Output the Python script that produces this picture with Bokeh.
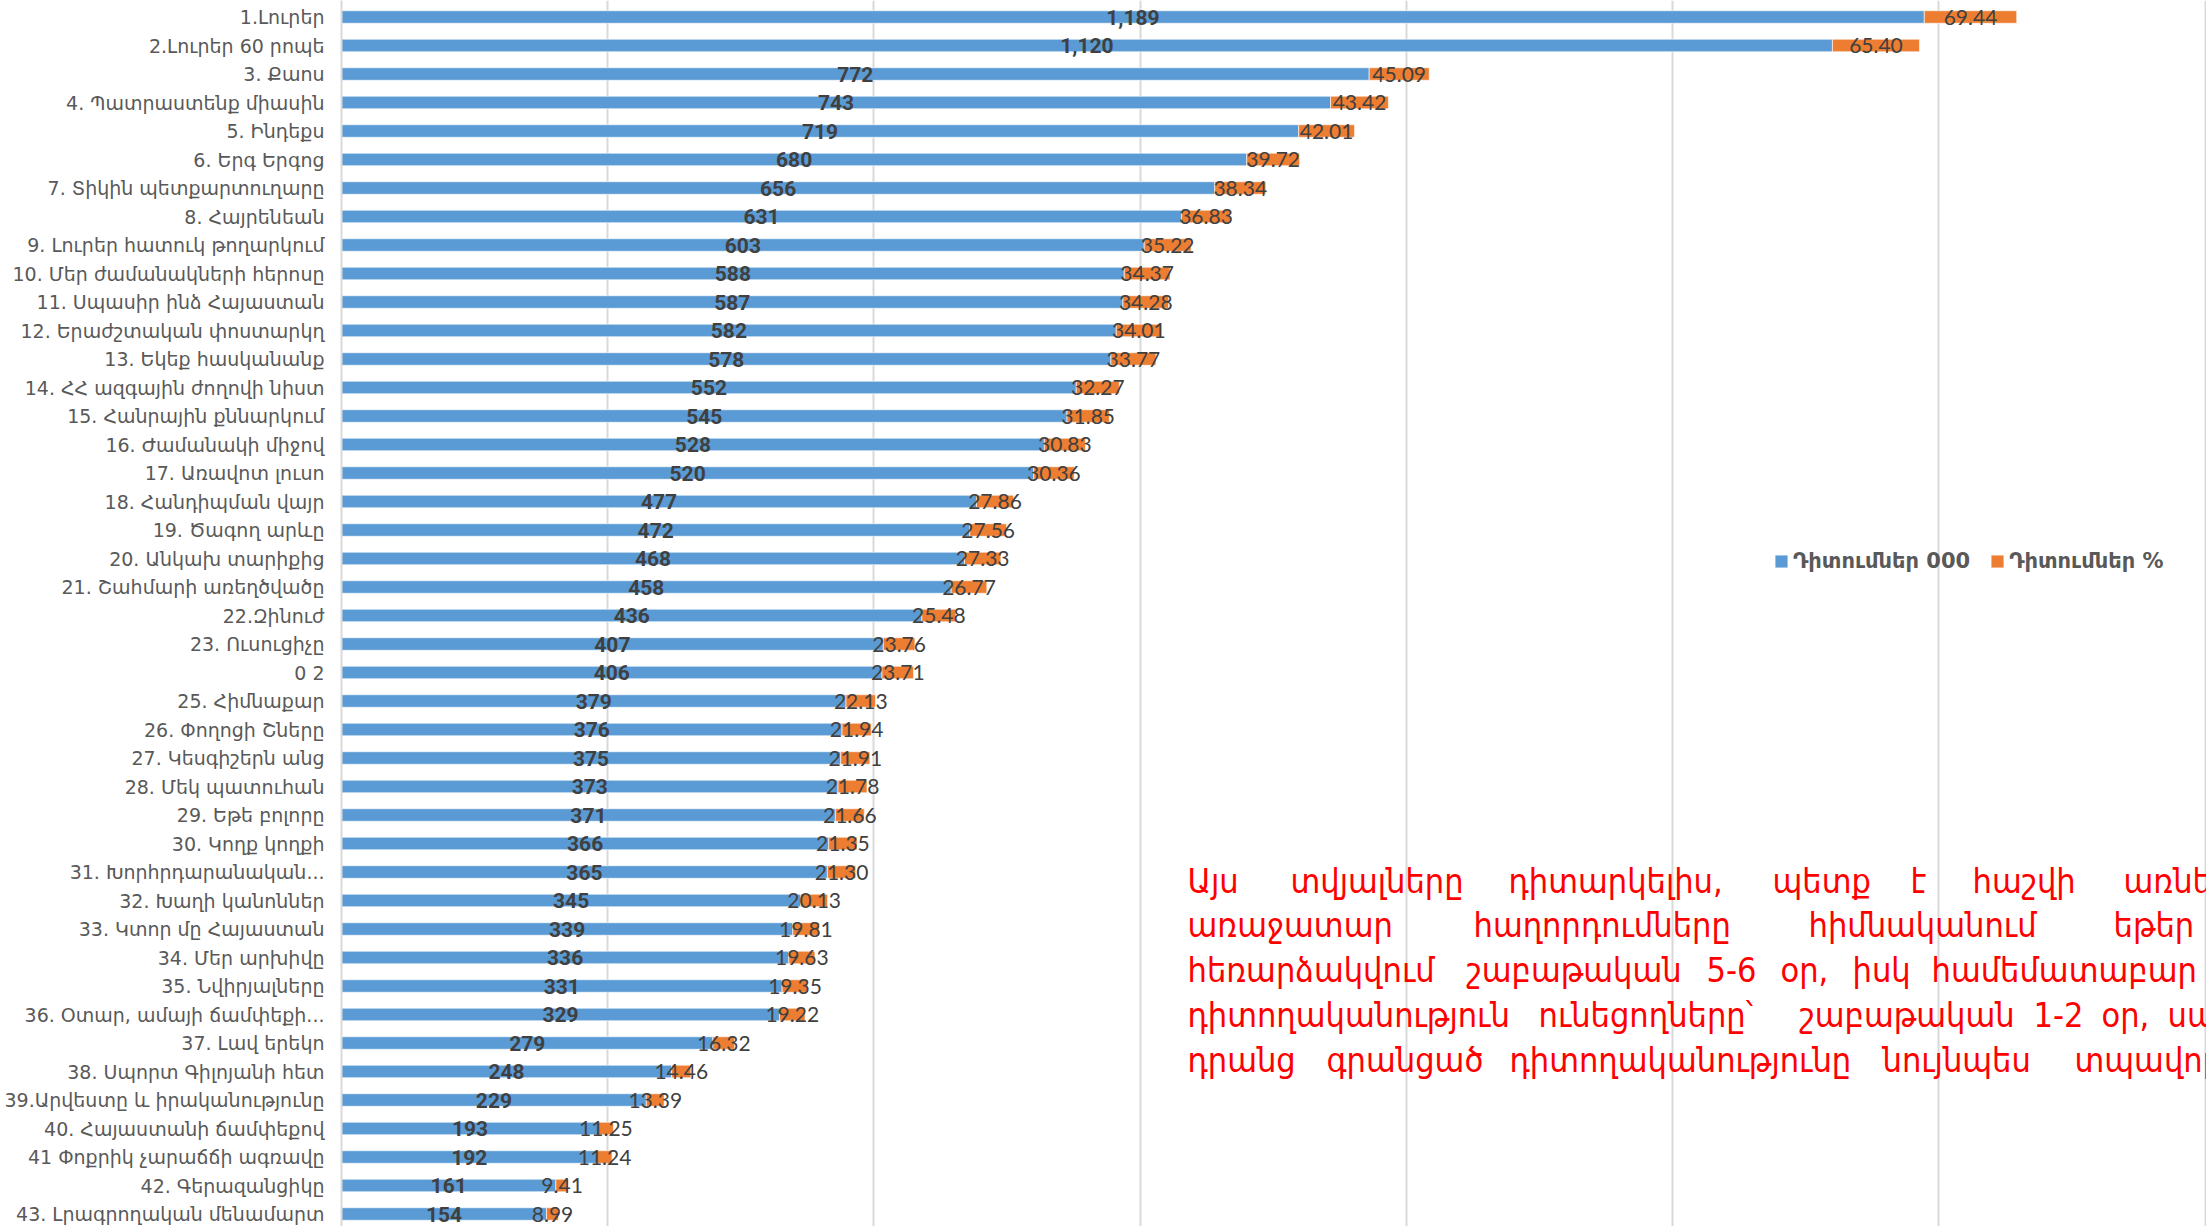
from bokeh.plotting import figure
from bokeh.models import ColumnDataSource, Range1d, FixedTicker, Legend, LegendItem
from bokeh.core.properties import value
from bokeh.embed import file_html
from bokeh.resources import INLINE

# ---------------- data ----------------
categories = [
    "1.Լուրեր", "2.Լուրեր 60 րոպե", "3. Քաոս", "4. Պատրաստենք միասին",
    "5. Ինդեքս", "6. Երգ Երգոց", "7. Տիկին պետքարտուղարը", "8. Հայրենեան",
    "9. Լուրեր հատուկ թողարկում", "10. Մեր ժամանակների հերոսը",
    "11. Սպասիր ինձ Հայաստան", "12. Երաժշտական փոստարկղ",
    "13. Եկեք հասկանանք", "14. ՀՀ ազգային ժողովի նիստ",
    "15. Հանրային քննարկում", "16. Ժամանակի միջով", "17. Առավոտ լուսո",
    "18. Հանդիպման վայր", "19. Ծագող արևը", "20. Անկախ տարիքից",
    "21. Շահմարի առեղծվածը", "22.Զինուժ", "23. Ուսուցիչը", "0 2",
    "25. Հիմնաքար", "26. Փողոցի Շները", "27. Կեսգիշերն անց",
    "28. Մեկ պատուհան", "29. Եթե բոլորը", "30. Կողք կողքի",
    "31. Խորհրդարանական...", "32. Խաղի կանոններ", "33. Կտոր մը Հայաստան",
    "34. Մեր արխիվը", "35. Նվիրյալները", "36. Օտար, ամայի ճամփեքի...",
    "37. Լավ երեկո", "38. Սպորտ Գիլոյանի հետ", "39.Արվեստը և իրականությունը",
    "40. Հայաստանի ճամփեքով", "41 Փոքրիկ չարաճճի ագռավը", "42. Գերազանցիկը",
    "43. Լրագրողական մենամարտ",
]
views_000 = [1189, 1120, 772, 743, 719, 680, 656, 631, 603, 588, 587, 582, 578,
             552, 545, 528, 520, 477, 472, 468, 458, 436, 407, 406, 379, 376,
             375, 373, 371, 366, 365, 345, 339, 336, 331, 329, 279, 248, 229,
             193, 192, 161, 154]
views_pct = [69.44, 65.40, 45.09, 43.42, 42.01, 39.72, 38.34, 36.83, 35.22,
             34.37, 34.28, 34.01, 33.77, 32.27, 31.85, 30.83, 30.36, 27.86,
             27.56, 27.33, 26.77, 25.48, 23.76, 23.71, 22.13, 21.94, 21.91,
             21.78, 21.66, 21.35, 21.30, 20.13, 19.81, 19.63, 19.35, 19.22,
             16.32, 14.46, 13.39, 11.25, 11.24, 9.41, 8.99]
x_ticks = [0, 200, 400, 600, 800, 1000, 1200, 1400]
series_names = ["Դիտումներ 000", "Դիտումներ %"]

# red note (justified text box, cut by the right edge), word by word
note_lines = [
    ["Այս", "տվյալները", "դիտարկելիս,", "պետք", "է", "հաշվի", "առնել"],
    ["առաջատար", "հաղորդումները", "հիմնականում", "եթեր"],
    ["հեռարձակվում", "շաբաթական", "5-6", "օր,", "իսկ", "համեմատաբար"],
    ["դիտողականություն", "ունեցողները՝", "շաբաթական", "1-2", "օր,", "սակայն"],
    ["դրանց", "գրանցած", "դիտողականությունը", "նույնպես", "տպավորիչ"],
]

# ---------------- layout constants (pixels) ----------------
W, H = 2206, 1226
LEFT = 341                 # frame left edge
ROW_PX = 28.50
XMAX = 1401
Y_TOP = 1 - 16.5 / ROW_PX
Y_BOTTOM = Y_TOP + H / ROW_PX
PX_PER_UNIT = (W - LEFT) / XMAX

def sx_to_x(px):
    return (px - LEFT) / PX_PER_UNIT

def sy_to_y(py):
    return Y_TOP + py / ROW_PX

BLUE = "#5B9BD5"
ORANGE = "#ED7D31"
LABEL = "#404040"

rows = list(range(1, len(categories) + 1))
src = ColumnDataSource(dict(
    y=rows,
    views=views_000,
    total=[v + p for v, p in zip(views_000, views_pct)],
    vmid=[v / 2 for v in views_000],
    pmid=[v + p / 2 for v, p in zip(views_000, views_pct)],
    vtxt=[f"{v:,}" for v in views_000],
    ptxt=[f"{p:.2f}" for p in views_pct],
))

p = figure(width=W, height=H, x_range=Range1d(0, XMAX),
           y_range=Range1d(Y_BOTTOM, Y_TOP),
           output_backend="svg", toolbar_location=None,
           min_border_left=LEFT, min_border_right=0,
           min_border_top=0, min_border_bottom=0)
p.outline_line_color = None
p.background_fill_color = "white"

p.xaxis.visible = False
p.xgrid.ticker = FixedTicker(ticks=x_ticks)
p.xgrid.grid_line_color = "#D9D9D9"
p.xgrid.grid_line_width = 2
p.ygrid.visible = False

ax = p.yaxis[0]
ax.ticker = FixedTicker(ticks=rows)
ax.major_label_overrides = {i: c for i, c in zip(rows, categories)}
ax.major_label_text_font = "DejaVu Sans"
ax.major_label_text_font_size = "19px"
ax.major_label_text_color = "#595959"
ax.major_label_standoff = 17
ax.major_tick_line_color = None
ax.major_tick_out = 0
ax.major_tick_in = 0
ax.minor_tick_line_color = None
ax.minor_tick_out = 0
ax.axis_line_color = "#D9D9D9"
ax.axis_line_width = 2

r_blue = p.hbar(y="y", left=0, right="views", height=0.44, source=src,
                fill_color=BLUE, line_color="white", line_alpha=0.6, line_width=1)
r_orange = p.hbar(y="y", left="views", right="total", height=0.44, source=src,
                  fill_color=ORANGE, line_color="white", line_alpha=0.6, line_width=1)

p.text(x="vmid", y="y", text="vtxt", source=src, text_align="center",
       text_baseline="middle", text_font=value("Roboto"), text_font_style="bold",
       text_font_size="21px", text_color=LABEL)
p.text(x="pmid", y="y", text="ptxt", source=src, text_align="center",
       text_baseline="middle", text_font=value("Lato"),
       text_font_size="21px", text_color=LABEL)

word_starts = [
    [1187, 1290, 1508, 1772, 1910, 1972, 2123],
    [1187, 1473, 1808, 2113],
    [1187, 1466, 1706, 1780, 1852, 1931],
    [1187, 1538, 1799, 2033, 2101, 2167],
    [1187, 1326, 1509, 1882, 2074],
]
line_centers = [880, 924, 969, 1014, 1059]
nx, ny, nt = [], [], []
for words, starts, cy in zip(note_lines, word_starts, line_centers):
    for w, sx in zip(words, starts):
        nx.append(sx_to_x(sx))
        ny.append(sy_to_y(cy))
        nt.append(w)
p.text(x=nx, y=ny, text=nt, text_align="left", text_baseline="middle",
       text_font=value("DejaVu Sans Condensed, DejaVu Sans"),
       text_font_size="34px", text_color="#FF0000")

legend = Legend(items=[LegendItem(label=series_names[0], renderers=[r_blue]),
                       LegendItem(label=series_names[1], renderers=[r_orange])],
                orientation="horizontal", location=(1432, H - 563 - 10),
                padding=0, margin=0, spacing=19, label_standoff=4,
                glyph_width=16, glyph_height=16, label_height=20,
                label_text_font="DejaVu Sans", label_text_font_style="bold",
                label_text_font_size="21px", label_text_color="#595959",
                border_line_color=None, background_fill_alpha=0)
p.add_layout(legend, "center")

open("out.html", "w").write(file_html(p, INLINE))
